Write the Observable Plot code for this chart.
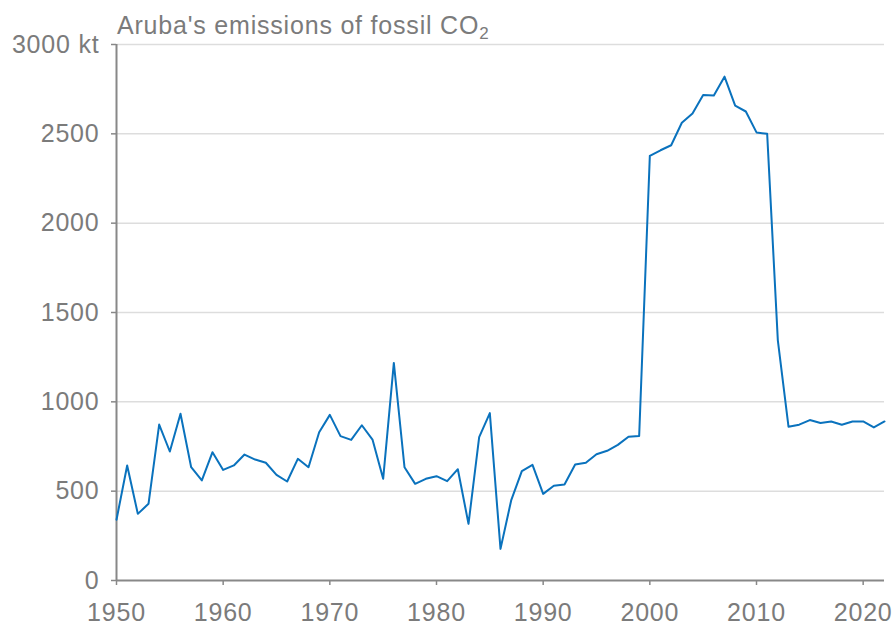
<!DOCTYPE html>
<html>
<head>
<meta charset="utf-8">
<script src="https://cdn.jsdelivr.net/npm/d3@7"></script>
<script src="https://cdn.jsdelivr.net/npm/@observablehq/plot@0.6"></script>
<style>
  html, body { margin: 0; padding: 0; background: #fff; }
  #wrap { position: relative; width: 894px; height: 626px; font-family: "Liberation Sans", Arial, sans-serif; }
  #title { position: absolute; left: 117px; top: 13px; font-size: 25px; line-height: 25px; letter-spacing: 0.8px; color: #7b7b7b; white-space: nowrap; }
  #title sub { font-size: 17px; vertical-align: -5px; line-height: 0; }
  #chart svg { overflow: visible; }
</style>
</head>
<body>
<div id="wrap">
  <div id="chart"></div>
  <div id="title">Aruba's emissions of fossil CO<sub>2</sub></div>
</div>
<script>
const years = d3.range(1950, 2023);
const emissions = [
  340, 644, 373, 429, 873, 722, 933, 634, 560, 718,
  619, 644, 705, 677, 659, 591, 554, 681, 634, 830,
  927, 808, 787, 869, 789, 569, 1218, 634, 541, 569,
  584, 556, 623, 317, 802, 937, 177, 448, 612, 647,
  485, 530, 537, 649, 659, 707, 726, 759, 805, 809,
  2377, 2408, 2436, 2562, 2614, 2718, 2714, 2820, 2658, 2625,
  2508, 2500, 1344, 861, 872, 898, 882, 890, 872, 890,
  890, 857, 890
];
const yTicks = [0, 500, 1000, 1500, 2000, 2500, 3000];
const xTicks = [1950, 1960, 1970, 1980, 1990, 2000, 2010, 2020];
const data = years.map((y, i) => ({year: y, value: emissions[i]}));

const gray = "#7b7b7b";
const chart = Plot.plot({
  width: 894,
  height: 626,
  marginLeft: 116,
  marginRight: 10,
  marginTop: 44,
  marginBottom: 46,
  style: {fontFamily: "'Liberation Sans', Arial, sans-serif", fontSize: "25px", letterSpacing: "0.8px", color: gray, background: "#fff", overflow: "visible"},
  x: {domain: [1950, 2022]},
  y: {domain: [0, 3000]},
  marks: [
    Plot.ruleY(yTicks.filter(d => d > 0), {stroke: "#dddddd", strokeWidth: 1.5}),
    Plot.axisY(yTicks, {tickSize: 5, tickPadding: 12, stroke: "#888", strokeWidth: 1.5, fill: gray, label: null,
      tickFormat: d => d === 3000 ? "3000 kt" : String(d)}),
    Plot.axisX(xTicks, {tickSize: 5, tickPadding: 18, stroke: "#888", strokeWidth: 1.5, fill: gray, label: null,
      tickFormat: d => String(d)}),
    Plot.ruleX([1950], {y1: 0, y2: 3000, stroke: "#888", strokeWidth: 2}),
    Plot.ruleY([0], {stroke: "#888", strokeWidth: 2}),
    Plot.line(data, {x: "year", y: "value", stroke: "#0a72bd", strokeWidth: 2, strokeLinejoin: "round"})
  ]
});
document.getElementById("chart").appendChild(chart);
</script>
</body>
</html>
